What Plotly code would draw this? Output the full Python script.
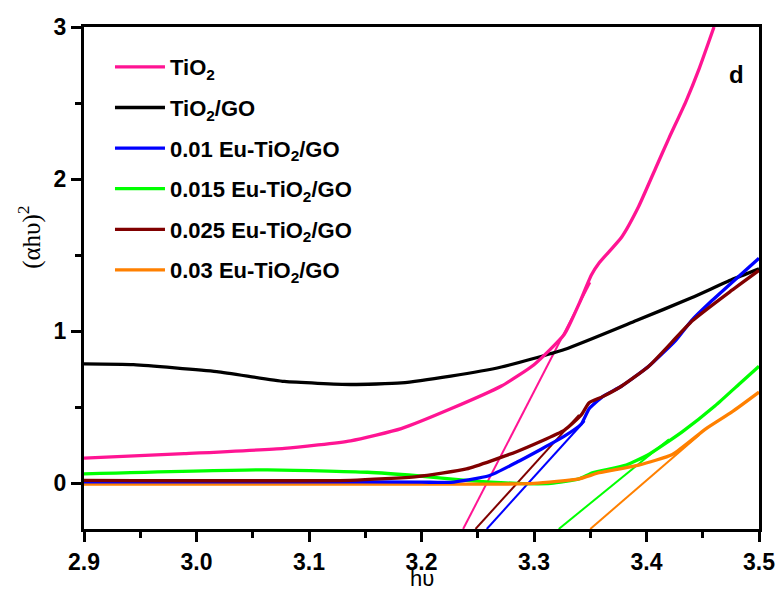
import plotly.graph_objects as go

# ---- data ----
x_tio2 = [2.90, 2.989, 3.078, 3.137, 3.182, 3.226, 3.271, 3.30, 3.327, 3.340, 3.351, 3.358, 3.378, 3.393, 3.408, 3.420, 3.435, 3.447, 3.460]
y_tio2 = [0.166, 0.195, 0.23, 0.28, 0.36, 0.49, 0.64, 0.78, 0.98, 1.18, 1.37, 1.45, 1.62, 1.82, 2.07, 2.27, 2.51, 2.73, 3.0]

x_go = [2.90, 2.944, 3.018, 3.078, 3.137, 3.182, 3.226, 3.271, 3.327, 3.391, 3.44, 3.476, 3.50]
y_go = [0.785, 0.78, 0.735, 0.67, 0.65, 0.66, 0.705, 0.765, 0.88, 1.07, 1.22, 1.34, 1.41]

x_01 = [2.90, 3.10, 3.20, 3.226, 3.26, 3.285, 3.327, 3.342, 3.349, 3.361, 3.378, 3.402, 3.426, 3.44, 3.458, 3.50]
y_01 = [0.01, 0.01, 0.008, 0.007, 0.05, 0.14, 0.31, 0.39, 0.49, 0.57, 0.64, 0.77, 0.94, 1.07, 1.20, 1.48]

x_015 = [2.90, 3.063, 3.152, 3.196, 3.24, 3.285, 3.315, 3.34, 3.352, 3.382, 3.402, 3.432, 3.461, 3.482, 3.50]
y_015 = [0.062, 0.089, 0.073, 0.05, 0.02, 0.0, 0.0, 0.03, 0.07, 0.12, 0.19, 0.34, 0.51, 0.65, 0.77]

x_025 = [2.90, 3.137, 3.196, 3.24, 3.285, 3.327, 3.342, 3.349, 3.361, 3.378, 3.402, 3.441, 3.476, 3.50]
y_025 = [0.02, 0.02, 0.045, 0.095, 0.21, 0.35, 0.45, 0.53, 0.57, 0.64, 0.77, 1.07, 1.27, 1.40]

x_03 = [2.90, 3.00, 3.10, 3.20, 3.27, 3.30, 3.34, 3.358, 3.393, 3.423, 3.453, 3.476, 3.50]
y_03 = [-0.005, -0.005, -0.005, -0.005, -0.005, 0.0, 0.03, 0.07, 0.12, 0.19, 0.36, 0.47, 0.60]

# tangent (Tauc) lines: [x_start, x_end], [y_start, y_end]
tan_tio2 = ([3.237, 3.35], [-0.30, 1.32])
tan_01 = ([3.258, 3.345], [-0.30, 0.41])
tan_015 = ([3.322, 3.42], [-0.30, 0.29])
tan_025 = ([3.248, 3.34], [-0.30, 0.45])
tan_03 = ([3.35, 3.447], [-0.30, 0.32])

names = ["TiO<sub>2</sub>", "TiO<sub>2</sub>/GO", "0.01 Eu-TiO<sub>2</sub>/GO",
         "0.015 Eu-TiO<sub>2</sub>/GO", "0.025 Eu-TiO<sub>2</sub>/GO", "0.03 Eu-TiO<sub>2</sub>/GO"]
colors = ["#FF1493", "#000000", "#0000FF", "#00FF00", "#800000", "#FF8000"]

curves = [(x_tio2, y_tio2), (x_go, y_go), (x_01, y_01), (x_015, y_015), (x_025, y_025), (x_03, y_03)]
tangents = [tan_tio2, None, tan_01, tan_015, tan_025, tan_03]

fig = go.Figure()

for col, tan in zip(colors, tangents):
    if tan is not None:
        fig.add_trace(go.Scatter(x=tan[0], y=tan[1], mode="lines",
                                 line=dict(color=col, width=2), showlegend=False, hoverinfo="skip"))

order = [1, 0, 3, 5, 2, 4]
for i in order:
    xs, ys = curves[i]
    fig.add_trace(go.Scatter(x=xs, y=ys, mode="lines", name=names[i],
                             line=dict(color=colors[i], width=3.3, shape="spline", smoothing=0.5),
                             legendgroup=f"g{i}", legendrank=i + 1))

axis_common = dict(
    showline=True, linewidth=3, linecolor="black", mirror=True, automargin=False,
    ticks="outside", tickwidth=2.5, ticklen=10, tickcolor="black",
    showgrid=False, zeroline=False,
    tickfont=dict(family="Liberation Sans, Arial", size=23, color="black", weight="bold"),
)

fig.update_layout(
    width=780, height=593,
    margin=dict(l=84, r=21, t=27, b=64, autoexpand=False),
    plot_bgcolor="white", paper_bgcolor="white",
    showlegend=True,
    legend=dict(x=0.0385, y=0.962, xanchor="left", yanchor="top",
                bgcolor="rgba(0,0,0,0)", traceorder="grouped", tracegroupgap=9,
                font=dict(family="Liberation Sans, Arial", size=22, color="black", weight="bold"),
                itemwidth=50),
    xaxis=dict(range=[2.9, 3.5], tickvals=[2.9, 3.0, 3.1, 3.2, 3.3, 3.4, 3.5],
               ticktext=["2.9", "3.0", "3.1", "3.2", "3.3", "3.4", "3.5"],
               minor=dict(dtick=0.05, ticks="outside", ticklen=6, tickwidth=2.5, tickcolor="black"),
               **axis_common),
    yaxis=dict(range=[-0.3, 3.0], tickvals=[0, 1, 2, 3],
               minor=dict(dtick=0.5, ticks="outside", ticklen=6, tickwidth=2.5, tickcolor="black"),
               **axis_common),
    annotations=[
        dict(text="d", x=0.967, y=0.906, xref="paper", yref="paper", xanchor="center", yanchor="middle",
             showarrow=False, font=dict(family="Liberation Sans, Arial", size=24, color="black", weight="bold")),
        dict(text="hυ", x=0.5, y=-0.1255, xref="paper", yref="paper", xanchor="center", yanchor="bottom",
             showarrow=False, borderpad=0,
             font=dict(family="Liberation Sans, Arial", size=22, color="black")),
        dict(text="(αhυ)<sup>2</sup>", x=-0.08, y=0.58, xref="paper", yref="paper", textangle=-90,
             xanchor="center", yanchor="middle",
             showarrow=False, font=dict(family="Liberation Serif, Times New Roman", size=25, color="black")),
    ],
)

fig.write_html("out.html")
